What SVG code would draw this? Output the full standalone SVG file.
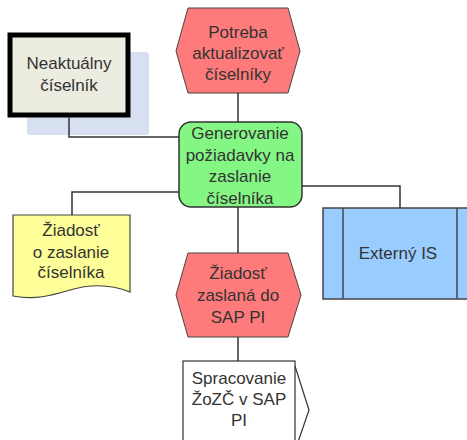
<svg xmlns="http://www.w3.org/2000/svg" width="467" height="440" viewBox="0 0 467 440">
<style>
text{font-family:"Liberation Sans",Arial,sans-serif;font-size:17px;fill:#333;text-anchor:middle}
.ln{fill:none;stroke:#333;stroke-width:1.5}
.ev{fill:#ff7b7b;stroke:#444;stroke-width:1}
</style>
<rect width="467" height="440" fill="#fff"/>
<g id="neaktualny">
<rect x="27" y="52" width="122" height="83" rx="3" fill="#d6e0f0"/>
<rect x="10" y="35" width="118" height="80" fill="#ecece0" stroke="#000" stroke-width="5"/>
<text x="69" y="69">Neaktuálny</text>
<text x="69" y="91">číselník</text>
</g>
<g id="potreba">
<polygon class="ev" points="188,8 288,8 300,51 288,93 188,93 176,51"/>
<text x="238" y="38">Potreba</text>
<text x="238" y="59">aktualizovať</text>
<text x="238" y="80">číselníky</text>
</g>
<g id="generovanie">
<rect x="179" y="122" width="123" height="85" rx="12" fill="#84f684" stroke="#333" stroke-width="1.5"/>
<text x="240" y="139">Generovanie</text>
<text x="240" y="161">požiadavky na</text>
<text x="240" y="182">zaslanie</text>
<text x="240" y="204">číselníka</text>
</g>
<g id="ziadost-doc">
<path d="M13,215 H130 V292 C110,284 90,284 70,290 C50,296 35,300 13,296 Z" fill="#ffff99" stroke="#444" stroke-width="1.2"/>
<text x="71" y="236">Žiadosť</text>
<text x="71" y="258">o zaslanie</text>
<text x="71" y="278">číselníka</text>
</g>
<g id="externy">
<rect x="323" y="208" width="150" height="91" fill="#99ccff" stroke="#444" stroke-width="1.5"/>
<line x1="343" y1="208" x2="343" y2="299" stroke="#444" stroke-width="1.5"/>
<line x1="457" y1="208" x2="457" y2="299" stroke="#444" stroke-width="1.5"/>
<text x="398" y="259">Externý IS</text>
</g>
<g id="ziadost-event">
<polygon class="ev" points="188,253 288,253 301,295 288,337 188,337 176,295"/>
<text x="238" y="279">Žiadosť</text>
<text x="238" y="301">zaslaná do</text>
<text x="238" y="323">SAP PI</text>
</g>
<g id="spracovanie">
<polyline points="295,366 309,410 297,445" fill="none" stroke="#333" stroke-width="1.2"/>
<line x1="206" y1="435" x2="209" y2="441" stroke="#333" stroke-width="1.2"/>
<rect x="183" y="361" width="112" height="84" fill="#fff" stroke="#333" stroke-width="1.2"/>
<text x="239" y="384">Spracovanie</text>
<text x="239" y="405">ŽoZČ v SAP</text>
<text x="239" y="426">PI</text>
</g>
<g id="connectors" class="ln">
<path d="M69,117.5 V137 H179"/>
<path d="M238,93 V122"/>
<path d="M179,192 H72 V215"/>
<path d="M302,186 H400 V208"/>
<path d="M238,207 V253"/>
<path d="M238,337 V361"/>
</g>
</svg>
